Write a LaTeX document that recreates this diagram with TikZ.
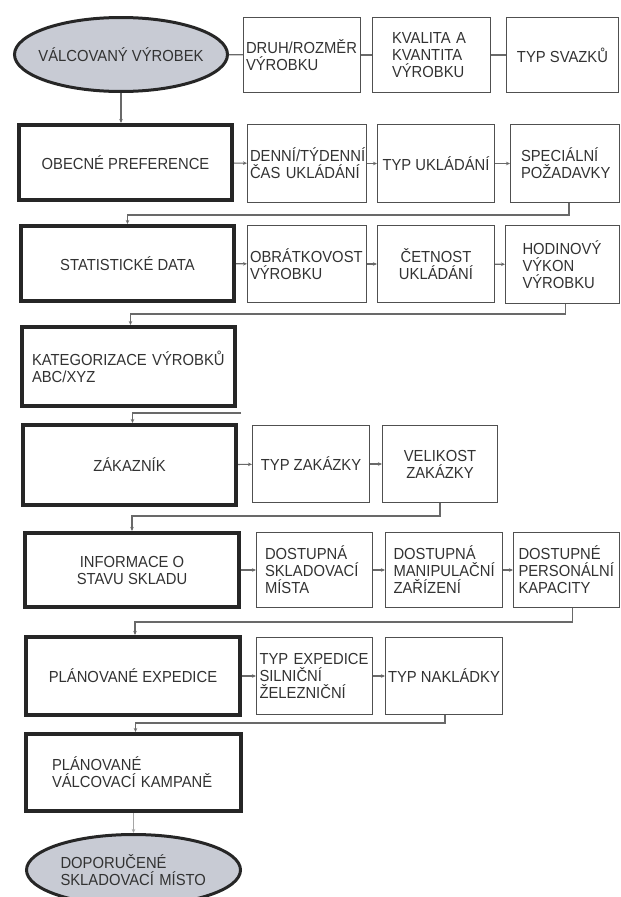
\documentclass[tikz,border=0pt]{standalone}
\usepackage{fontspec}
\setmainfont{Liberation Sans}[FakeStretch = 0.925]
\usetikzlibrary{arrows.meta, shapes.geometric}
\definecolor{txtgray}{RGB}{50,50,50}
\definecolor{boxgray}{RGB}{80,80,80}
\definecolor{linegray}{RGB}{105,105,105}
\definecolor{ovalfill}{RGB}{200,203,212}
\hyphenpenalty = 10000
\exhyphenpenalty = 10000

\begin{document}
\begin{tikzpicture}[x = 1pt, y = -1pt,
		font = \fontsize{16}{17}\selectfont, text = txtgray,
		bigbox/.style = {draw = black!85, line width = 4pt, inner sep = 0pt,
			minimum width = 213pt, minimum height = 75pt, align = center},
		smallbox/.style = {draw = boxgray, line width = 1pt, inner sep = 0pt,
			minimum height = 75pt, align = center},
		oval/.style = {ellipse, draw = black!85, line width = 3pt, fill = ovalfill,
			inner xsep = -20pt, inner ysep = 0pt, align = center},
		lft/.style = {align = left, text width = #1},
		plain/.style = {draw = linegray, line width = 1.2pt},
		conn/.style = {plain, -{Stealth[length = 4pt, width = 3.5pt]}}]
		\useasboundingbox (0, 0) rectangle (621, 897);
		%%%%%%%%%%%%%
		\node [oval, minimum width = 213pt, minimum height = 74pt] (valc) at (121, 54.5) {VÁLCOVANÝ VÝROBEK};
		\node [smallbox, minimum width = 117pt, lft = 112pt] (druh) at (302, 55) {DRUH/ROZMĚR\\VÝROBKU};
		\node [smallbox, minimum width = 118pt, lft = 79pt] (kval) at (431.5, 55) {KVALITA A\\KVANTITA\\VÝROBKU};
		\node [smallbox, minimum width = 112pt] (svaz) at (562.5, 55) {TYP SVAZKŮ};
		%%%%%%%%%%%%%
		\node [bigbox] (obec) at (125.5, 162.5) {OBECNÉ PREFERENCE};
		\node [smallbox, minimum width = 119pt, minimum height = 78pt, lft = 114pt] (denni) at (307, 163.5) {DENNÍ/TÝDENNÍ\\ČAS UKLÁDÁNÍ};
		\node [smallbox, minimum width = 117pt, minimum height = 78pt] (typukl) at (436, 163.5) {TYP UKLÁDÁNÍ};
		\node [smallbox, minimum width = 109pt, minimum height = 78pt, lft = 88pt] (spec) at (565, 163.5) {SPECIÁLNÍ\\POŽADAVKY};
		%%%%%%%%%%%%%
		\node [bigbox] (stat) at (127.5, 263.5) {STATISTICKÉ DATA};
		\node [smallbox, minimum width = 119pt, minimum height = 77pt, lft = 114pt] (obrat) at (307, 264) {OBRÁTKOVOST\\VÝROBKU};
		\node [smallbox, minimum width = 117pt, minimum height = 77pt] (cetn) at (436, 264) {ČETNOST\\UKLÁDÁNÍ};
		\node [smallbox, minimum width = 114pt, minimum height = 78pt, lft = 80pt] (hodin) at (562.5, 264.5) {HODINOVÝ\\VÝKON\\VÝROBKU};
		%%%%%%%%%%%%%
		\node [bigbox, minimum height = 79pt, lft = 193pt] (kateg) at (128.5, 366.5) {KATEGORIZACE VÝROBKŮ\\ABC/XYZ};
		\coordinate (kout) at (241, 413);
		%%%%%%%%%%%%%
		\node [bigbox, minimum height = 80pt] (zakaz) at (129.5, 465) {ZÁKAZNÍK};
		\node [smallbox, minimum width = 117pt, minimum height = 77pt] (typzak) at (311, 464) {TYP ZAKÁZKY};
		\node [smallbox, minimum width = 115pt, minimum height = 77pt] (velik) at (440, 464) {VELIKOST\\ZAKÁZKY};
		%%%%%%%%%%%%%
		\node [bigbox, minimum width = 214pt, minimum height = 74pt] (info) at (132, 570) {INFORMACE O\\STAVU SKLADU};
		\node [smallbox, minimum width = 116pt, lft = 99pt] (dsklad) at (314.5, 570) {DOSTUPNÁ\\SKLADOVACÍ\\MÍSTA};
		\node [smallbox, minimum width = 117pt, lft = 101pt] (dmanip) at (444, 570) {DOSTUPNÁ\\MANIPULAČNÍ\\ZAŘÍZENÍ};
		\node [smallbox, minimum width = 106pt, lft = 96pt] (dpers) at (566.5, 570) {DOSTUPNÉ\\PERSONÁLNÍ\\KAPACITY};
		%%%%%%%%%%%%%
		\node [bigbox, minimum width = 214pt, minimum height = 78pt] (plexp) at (133, 676) {PLÁNOVANÉ EXPEDICE};
		\node [smallbox, minimum width = 116pt, minimum height = 77pt, lft = 110pt] (typexp) at (314.5, 676) {TYP EXPEDICE\\SILNIČNÍ\\ŽELEZNIČNÍ};
		\node [smallbox, minimum width = 117pt, minimum height = 77pt] (typnak) at (444, 676) {TYP NAKLÁDKY};
		%%%%%%%%%%%%%
		\node [bigbox, minimum width = 215pt, minimum height = 77pt, lft = 163pt] (plval) at (133.5, 772.5) {PLÁNOVANÉ\\VÁLCOVACÍ KAMPANĚ};
		\node [oval, minimum width = 214pt, minimum height = 71pt, lft = 146pt] (dopor) at (133.5, 870) {DOPORUČENÉ\\SKLADOVACÍ MÍSTO};
		%%%%%%%%%%%%%
		\draw [plain] (valc) to (druh); \draw [plain] (druh) to (kval); \draw [plain] (kval) to (svaz);
		\draw [conn] (valc.south) to (valc.south |- obec.north);
		\draw [conn] (obec) to (denni); \draw [conn] (denni) to (typukl); \draw [conn] (typukl) to (spec);
		\draw [conn] ([xshift = 4pt]spec.south) -- ++(0, 12) -| (stat.north);
		\draw [conn] (stat) to (obrat); \draw [conn] (obrat) to (cetn); \draw [conn] (cetn) to (hodin);
		\draw [conn] ([xshift = 3pt]hodin.south) -- ++(0, 10) -| ([xshift = 2pt]kateg.north);
		\draw [conn] (kout) -| ([xshift = 3pt]zakaz.north);
		\draw [conn] (zakaz) to (typzak); \draw [conn] (typzak) to (velik);
		\draw [conn] (velik.south) -- ++(0, 13) -| (info.north);
		\draw [conn] (info) to (dsklad); \draw [conn] (dsklad) to (dmanip); \draw [conn] (dmanip) to (dpers);
		\draw [conn] ([xshift = 6pt]dpers.south) -- ++(0, 14) -| ([xshift = 2pt]plexp.north);
		\draw [conn] (plexp) to (typexp); \draw [conn] (typexp) to (typnak);
		\draw [conn] ([xshift = 1pt]typnak.south) -- ++(0, 8) -| ([xshift = 2pt]plval.north);
		\draw [conn, draw = linegray!60] (plval.south) to (plval.south |- dopor.north);
\end{tikzpicture}
\end{document}
